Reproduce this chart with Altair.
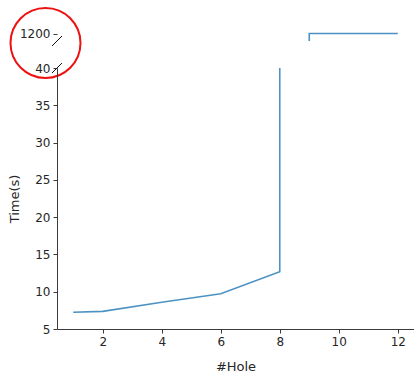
import altair as alt
import pandas as pd

hole = [1, 2, 4, 6, 8, 8, 9, 9, 10, 11, 12]
time_s = [7.24, 7.37, 8.58, 9.73, 12.68, 600, 600, 1200, 1200, 1200, 1200]
order = list(range(len(hole)))

x_ticks = [2, 4, 6, 8, 10, 12]
y_ticks_bottom = [5, 10, 15, 20, 25, 30, 35, 40]
y_ticks_top = [1200]

df = pd.DataFrame({"hole": hole, "time": time_s, "order": order})

FONT = "DejaVu Sans"
TXT = "#262626"
LINE = "#4c92c3"
SPINE = "#3a3a3a"
LFS = 12

xscale = alt.Scale(domain=[0.45, 12.55], nice=False, zero=False)
top_yscale = alt.Scale(domain=[1180, 1215], nice=False, zero=False)
bot_yscale = alt.Scale(domain=[5, 40], nice=False, zero=False)

top_yaxis = alt.Axis(values=y_ticks_top, format="d", title=None, domain=False, grid=False,
                     tickColor=SPINE, tickSize=4, labelPadding=3, labelOverlap=False,
                     labelFont=FONT, labelFontSize=LFS, labelColor=TXT)
bot_xaxis = alt.Axis(values=x_ticks, title="#Hole", grid=False, domainColor=SPINE,
                     tickColor=SPINE, tickSize=4, labelPadding=3, labelOverlap=False,
                     labelFont=FONT, labelFontSize=LFS, labelColor=TXT,
                     titleFont=FONT, titleFontSize=13, titleFontWeight="normal",
                     titleColor=TXT, titlePadding=13)
bot_yaxis = alt.Axis(values=y_ticks_bottom, title="Time(s)", grid=False,
                     domainColor=SPINE, tickColor=SPINE, tickSize=4, labelPadding=3,
                     labelOverlap=False,
                     labelFont=FONT, labelFontSize=LFS, labelColor=TXT,
                     titleFont=FONT, titleFontSize=13, titleFontWeight="normal",
                     titleColor=TXT, titlePadding=13)

# ---------- top panel ----------
top_line = alt.Chart(df).mark_line(color=LINE, strokeWidth=1.6, clip=True).encode(
    x=alt.X("hole:Q", scale=xscale, axis=None),
    y=alt.Y("time:Q", scale=top_yscale, axis=top_yaxis),
    order="order:Q",
)
top_break = alt.Chart(pd.DataFrame({"hole": [0.45], "time": [1180]})).mark_point(
    shape="M -1 1 L 1 -1", size=100, filled=False, color="#111111", strokeWidth=1, opacity=1
).encode(x=alt.X("hole:Q", scale=xscale, axis=None),
         y=alt.Y("time:Q", scale=top_yscale, axis=top_yaxis))
circle = alt.Chart(pd.DataFrame({"a": [0]})).mark_point(
    shape="circle", size=4900, filled=False, color="#ee1111", strokeWidth=2, opacity=1
).encode(x=alt.value(-11.5), y=alt.value(15))
top = alt.layer(top_line, top_break, circle).properties(width=357, height=13)

# ---------- bottom panel ----------
bot_line = alt.Chart(df).mark_line(color=LINE, strokeWidth=1.6, clip=True).encode(
    x=alt.X("hole:Q", scale=xscale, axis=bot_xaxis),
    y=alt.Y("time:Q", scale=bot_yscale, axis=bot_yaxis),
    order="order:Q",
)
bot_break = alt.Chart(pd.DataFrame({"hole": [0.45], "time": [40]})).mark_point(
    shape="M -1 1 L 1 -1", size=100, filled=False, color="#111111", strokeWidth=1, opacity=1
).encode(x=alt.X("hole:Q", scale=xscale, axis=bot_xaxis),
         y=alt.Y("time:Q", scale=bot_yscale, axis=bot_yaxis))
bottom = alt.layer(bot_line, bot_break).properties(width=357, height=261)

chart = alt.vconcat(top, bottom, spacing=27, bounds="flush").resolve_scale(
    y="independent"
).properties(
    padding={"left": 6, "top": 4, "right": 0, "bottom": 0}
).configure(background="white").configure_view(strokeWidth=0, stroke="transparent")

chart.save("out.html", embed_options={"renderer": "svg", "actions": False})
